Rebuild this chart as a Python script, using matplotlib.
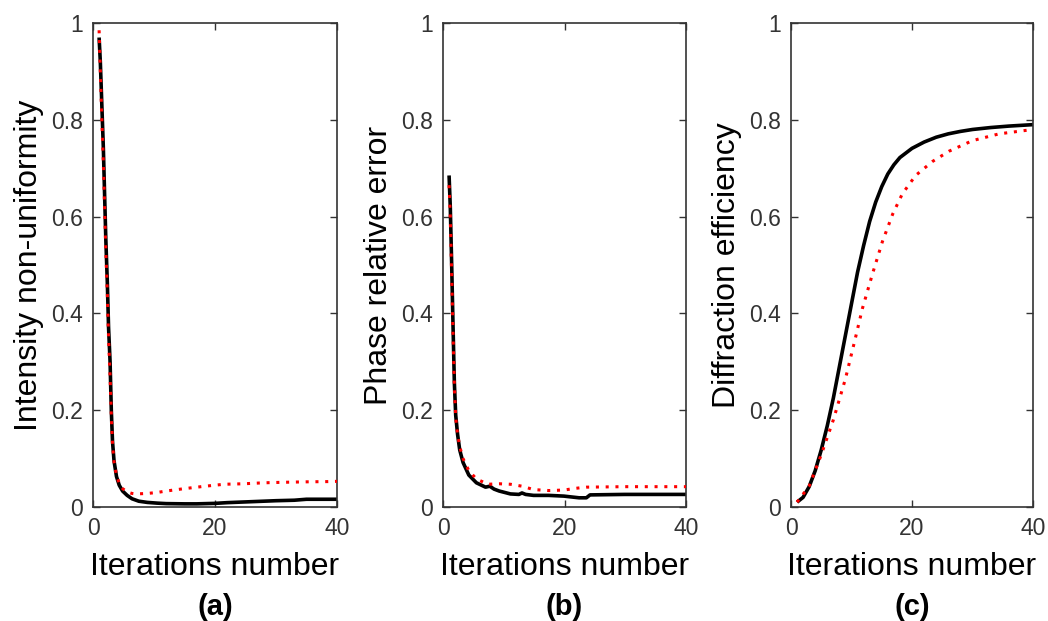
import matplotlib
matplotlib.use("Agg")
import matplotlib.pyplot as plt

plt.rcParams['font.family'] = ['Liberation Sans', 'DejaVu Sans']

# (a) intensity non-uniformity
a_x_black = [1.0, 1.2, 1.45, 1.7, 1.9, 2.1, 2.35, 2.55, 2.8, 3.0, 3.2, 3.45, 3.85, 4.3,
             4.85, 5.6, 6.4, 7.5, 8.9, 10.5, 12, 15, 17, 20, 22, 25, 28, 30, 33, 35, 38, 40]
a_y_black = [0.97, 0.92, 0.83, 0.74, 0.646, 0.554, 0.463, 0.371, 0.30, 0.20, 0.135, 0.095,
             0.063, 0.045, 0.033, 0.024, 0.017, 0.012, 0.0095, 0.008, 0.007, 0.0065, 0.0065,
             0.0075, 0.009, 0.0105, 0.012, 0.013, 0.014, 0.016, 0.016, 0.016]
a_x_red = [1.0, 1.2, 1.45, 1.7, 1.9, 2.1, 2.35, 2.55, 2.8, 3.0, 3.2, 3.45, 3.85, 4.3, 4.85,
           5.6, 6.4, 7.0, 8.9, 10.5, 12, 15, 18.4, 21.5, 24.7, 28, 31, 35, 38.5, 40]
a_y_red = [0.985, 0.90, 0.80, 0.71, 0.62, 0.53, 0.44, 0.35, 0.27, 0.19, 0.13, 0.093, 0.065,
           0.049, 0.038, 0.031, 0.028, 0.027, 0.028, 0.030, 0.033, 0.038, 0.043, 0.047,
           0.048, 0.050, 0.051, 0.052, 0.0525, 0.053]

# (b) phase relative error
b_x_black = [1.0, 1.2, 1.43, 1.65, 1.87, 2.09, 2.4, 2.75, 3.3, 4.25, 5.5, 7.0, 7.7, 8.4,
             9.25, 11.1, 12.5, 13.0, 13.6, 14.9, 17.4, 19.9, 22.4, 23.6, 24.2, 29.9, 35, 40]
b_y_black = [0.685, 0.62, 0.50, 0.375, 0.257, 0.19, 0.15, 0.118, 0.092, 0.066, 0.050, 0.041,
             0.043, 0.037, 0.033, 0.027, 0.026, 0.029, 0.026, 0.024, 0.024, 0.0225, 0.019,
             0.019, 0.025, 0.026, 0.026, 0.026]
b_x_red = [1.0, 1.2, 1.43, 1.65, 1.87, 2.09, 2.4, 2.75, 3.3, 4.25, 5.5, 7.4, 9.25, 11.1,
           13, 14.9, 17.4, 19.9, 21.75, 23.6, 29.9, 40]
b_y_red = [0.665, 0.60, 0.48, 0.36, 0.25, 0.185, 0.15, 0.125, 0.10, 0.075, 0.058, 0.047,
           0.048, 0.047, 0.043, 0.036, 0.034, 0.035, 0.0385, 0.041, 0.042, 0.042]

# (c) diffraction efficiency
c_x_black = [1, 2, 3, 4, 5, 6, 7, 8, 9, 10, 11, 12, 13, 14, 15, 16, 17, 18, 20, 22, 24,
             26, 28, 30, 33, 36, 40]
c_y_black = [0.01, 0.02, 0.042, 0.075, 0.118, 0.168, 0.225, 0.29, 0.355, 0.42, 0.485, 0.54,
             0.59, 0.63, 0.662, 0.688, 0.707, 0.722, 0.741, 0.754, 0.764, 0.771, 0.776,
             0.78, 0.784, 0.787, 0.79]
c_x_red = [1, 3, 5, 7, 9, 10.7, 11.8, 13.5, 15.1, 16.8, 18.4, 20.6, 23.4, 26.1, 30, 34.4, 40]
c_y_red = [0.01, 0.043, 0.108, 0.18, 0.265, 0.352, 0.41, 0.483, 0.548, 0.605, 0.647, 0.685,
           0.714, 0.735, 0.757, 0.771, 0.78]

ylabels = ['Intensity non-uniformity', 'Phase relative error', 'Diffraction efficiency']
panel_tags = ['(a)', '(b)', '(c)']
x_ticks = [0, 20, 40]
y_ticks = [0, 0.2, 0.4, 0.6, 0.8, 1]
y_ticklabels = ['0', '0.2', '0.4', '0.6', '0.8', '1']

series = [(a_x_black, a_y_black, a_x_red, a_y_red),
          (b_x_black, b_y_black, b_x_red, b_y_red),
          (c_x_black, c_y_black, c_x_red, c_y_red)]

fig = plt.figure(figsize=(10.48, 6.21), dpi=100)
lefts = [93, 443, 791]
widths = [244, 243, 242]

for i, (xb, yb, xr, yr) in enumerate(series):
    ax = fig.add_axes([lefts[i] / 1048, (621 - 507) / 621, widths[i] / 1048, 484 / 621])
    ax.plot(xb, yb, color='black', linewidth=2.6, solid_capstyle='butt', zorder=2)
    ax.plot(xr, yr, color='red', linewidth=2.2, linestyle=(0, (1, 2.2)), zorder=3)
    ax.set_xlim(0, 40)
    ax.set_ylim(0, 1)
    ax.set_xticks(x_ticks)
    ax.set_yticks(y_ticks)
    ax.set_yticklabels(y_ticklabels)
    ax.tick_params(direction='in', length=5, width=1, top=True, right=True,
                   labelsize=16.5, colors='#333333', pad=7)
    for s in ax.spines.values():
        s.set_linewidth(1.2)
        s.set_color('#333333')
    ax.set_xlabel('Iterations number', fontsize=23, labelpad=9)
    ax.set_ylabel(ylabels[i], fontsize=23, labelpad=5)
    ax.text(0.5, -0.207, panel_tags[i], transform=ax.transAxes, ha='center', va='center',
            fontsize=21, fontweight='bold')

fig.savefig('out.png', dpi=100)
